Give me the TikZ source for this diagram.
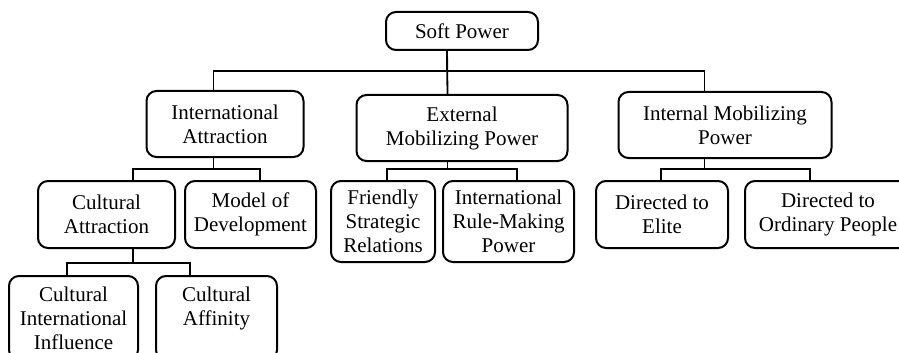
\documentclass[tikz,border=0pt]{standalone}
\usepackage{fontspec}
\setmainfont{Liberation Serif}
\usetikzlibrary{positioning}
\tikzset{
    font=\fontsize{10.5}{12}\selectfont,
    % Boxes
    block/.style={rectangle, draw=black, line width=1pt, rounded corners=5pt,
                  inner sep=0pt, outer sep=0pt, align=center, fill=white},
    % Connectors
    branch/.style={draw=black, line width=0.9pt}
}
\begin{document}
\begin{tikzpicture}

\path[use as bounding box] (0,0) rectangle (449.5pt,-176.5pt);
\clip (0,0) rectangle (449.5pt,-176.5pt);

% Top and first level
\node[block, minimum width=76pt, minimum height=19pt] (soft) at (231pt,-15.5pt) {Soft Power};
\node[block, minimum width=105.5pt, minimum height=33pt, below=22.5pt of soft] (ext) {External\\Mobilizing Power};
\node[block, minimum width=78.5pt, minimum height=33pt, left=26.5pt of ext, yshift=2pt] (intl) {International\\Attraction};
\node[block, minimum width=106.5pt, minimum height=33pt, right=25.5pt of ext, yshift=1.5pt] (imob) {Internal Mobilizing\\Power};

% Second level
\node[block, minimum width=68.5pt, minimum height=33.5pt, anchor=north west] (cult) at (19pt,-90.5pt) {Cultural\\Attraction};
\node[block, minimum width=65.5pt, minimum height=33.5pt, right=5pt of cult.north east, anchor=north west] (model) {Model of\\Development};
\node[block, minimum width=52pt, minimum height=40.5pt, right=7.5pt of model.north east, anchor=north west] (friend) {Friendly\\Strategic\\Relations};
\node[block, minimum width=65.5pt, minimum height=40.5pt, right=4pt of friend.north east, anchor=north west] (rule) {International\\Rule-Making\\Power};
\node[block, minimum width=66pt, minimum height=33.5pt, right=11pt of rule.north east, anchor=north west] (elite) {Directed to\\Elite};
\node[block, minimum width=83pt, minimum height=33.5pt, right=8.5pt of elite.north east, anchor=north west] (ordin) {Directed to\\Ordinary People};

% Third level
\node[block, minimum width=64.5pt, minimum height=42pt, below=14pt of cult.south west, anchor=north west, xshift=-14.5pt] (cii) {Cultural\\International\\Influence};
\node[block, minimum width=60.5pt, minimum height=42pt, right=9pt of cii.north east, anchor=north west] (aff) {Cultural\\Affinity\\\mbox{}};

% Soft Power
\draw[branch] ([xshift=-7.5pt]soft.south) -- ([xshift=-7.25pt]ext.north);
\draw[branch] ([xshift=-7.5pt]soft.south) -- ++(0,-10.5pt) -| ([xshift=-5.75pt]intl.north);
\draw[branch] ([xshift=-7.5pt]soft.south) -- ++(0,-10.5pt) -| ([xshift=-10.25pt]imob.north);

% International Attraction
\draw[branch] ([xshift=-5.75pt]intl.south) -- ++(0,-6pt) -| ([xshift=13.25pt]cult.north);
\draw[branch] ([xshift=-5.75pt]intl.south) -- ++(0,-6pt) -| ([xshift=4.75pt]model.north);

% External Mobilizing Power
\draw[branch] ([xshift=-7.25pt]ext.south) -- ++(0,-4pt) -| ([xshift=2pt]friend.north);
\draw[branch] ([xshift=-7.25pt]ext.south) -- ++(0,-4pt) -| ([xshift=4.25pt]rule.north);

% Internal Mobilizing Power
\draw[branch] ([xshift=-10.25pt]imob.south) -- ++(0,-5.5pt) -| ([xshift=-0.5pt]elite.north);
\draw[branch] ([xshift=-10.25pt]imob.south) -- ++(0,-5.5pt) -| ([xshift=-9pt]ordin.north);

% Cultural Attraction
\draw[branch] ([xshift=13.25pt]cult.south) -- ++(0,-7.5pt) -| ([xshift=-3.25pt]cii.north);
\draw[branch] ([xshift=13.25pt]cult.south) -- ++(0,-7.5pt) -| ([xshift=-13.25pt]aff.north);

\end{tikzpicture}
\end{document}
